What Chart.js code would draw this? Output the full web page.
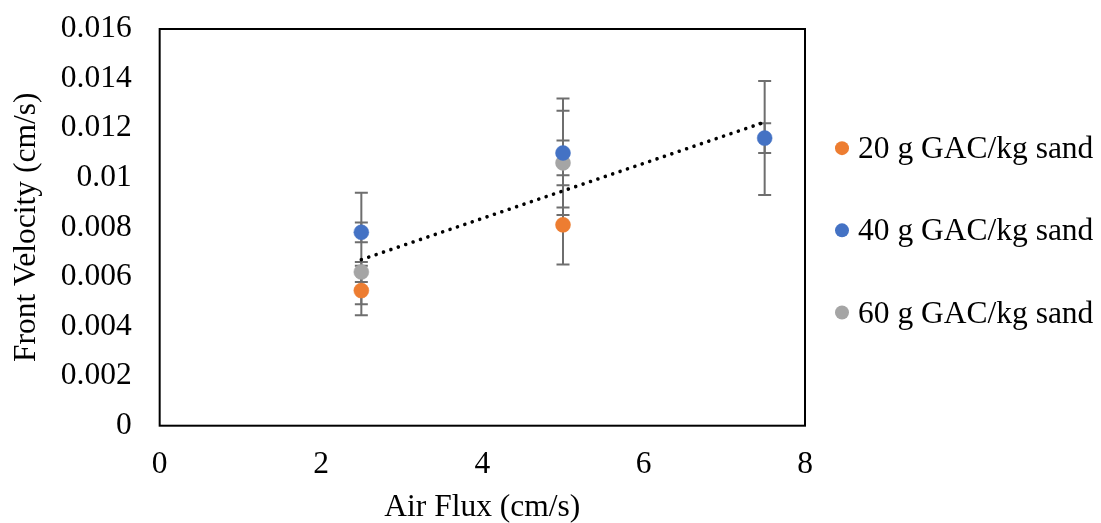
<!DOCTYPE html>
<html>
<head>
<meta charset="utf-8">
<title>Front Velocity vs Air Flux</title>
<script src="https://cdn.jsdelivr.net/npm/chart.js@4.4.1/dist/chart.umd.min.js"></script>
<style>
    html, body { margin: 0; padding: 0; background: #fff; }
    #wrap { width: 1101px; height: 523px; }
</style>
</head>
<body>
<div id="wrap"><canvas id="grafico"></canvas></div>
<script>
// air flux (cm/s) per series
var flux20 = [2.5, 5];
var flux40 = [2.5, 5, 7.5];
var flux60 = [2.5, 5];
// front velocity (cm/s)
var vel20 = [0.00545, 0.0081];
var vel40 = [0.0078, 0.0110, 0.0116];
var vel60 = [0.0062, 0.0106];
// error bars, +/- (cm/s)
var err20 = [0.001, 0.0016];
var err40 = [0.0004, 0.0022, 0.0023];
var err60 = [0.0004, 0.0021];
// second error bar on the 40 g series, [minus, plus]
var err40b = [[0.0029, 0.0016], [0.0009, 0.0005], [0.0006, 0.0006]];

var seriesNames = ['20 g GAC/kg sand', '40 g GAC/kg sand', '60 g GAC/kg sand'];
var seriesColors = ['#ED7D31', '#4472C4', '#A5A5A5'];
var xTicks = [0, 2, 4, 6, 8];
var yTicks = [0, 0.002, 0.004, 0.006, 0.008, 0.01, 0.012, 0.014, 0.016];

var FONT = "'Liberation Serif', 'Times New Roman', serif";
var FSIZE = 31.5;

function points(xs, ys){
    return xs.map(function(x, i){ return {x: x, y: ys[i]}; });
}

function symErr(errs){
    return errs.map(function(e){ return [[e, e]]; });
}

// least squares line through every measured point
function trend(){
    var xs = flux20.concat(flux40, flux60);
    var ys = vel20.concat(vel40, vel60);
    var n = xs.length, mx = 0, my = 0;
    for (var i = 0; i < n; i++){ mx += xs[i]; my += ys[i]; }
    mx /= n; my /= n;
    var sxy = 0, sxx = 0;
    for (i = 0; i < n; i++){
        sxy += (xs[i] - mx) * (ys[i] - my);
        sxx += (xs[i] - mx) * (xs[i] - mx);
    }
    var b = sxy / sxx, a = my - b * mx;
    var x0 = Math.min.apply(null, xs), x1 = Math.max.apply(null, xs);
    return [{x: x0, y: a + b * x0}, {x: x1, y: a + b * x1}];
}

var err40all = err40.map(function(e, i){ return [[e, e], err40b[i]]; });

var datasets = [
    {label: seriesNames[0], data: points(flux20, vel20), errs: symErr(err20)},
    {label: seriesNames[1], data: points(flux40, vel40), errs: err40all},
    {label: seriesNames[2], data: points(flux60, vel60), errs: symErr(err60)}
].map(function(ds, i){
    ds.backgroundColor = seriesColors[i];
    ds.borderColor = seriesColors[i];
    ds.pointRadius = 7.5;
    ds.pointHoverRadius = 7.5;
    ds.borderWidth = 0.5;
    ds.order = 2;
    return ds;
});

datasets.push({
    type: 'line',
    label: 'trend',
    data: trend(),
    borderColor: '#000',
    borderWidth: 3.6,
    borderDash: [0.01, 7.8],
    borderCapStyle: 'round',
    pointRadius: 0,
    fill: false,
    order: 1,
    isTrend: true
});

var errorBars = {
    id: 'errorBars',
    beforeDatasetsDraw: function(chart){
        var ctx = chart.ctx, xs = chart.scales.x, ys = chart.scales.y;
        ctx.save();
        ctx.strokeStyle = '#6E6E6E';
        ctx.lineWidth = 2;
        chart.data.datasets.forEach(function(ds){
            if (!ds.errs) return;
            ds.data.forEach(function(p, i){
                var px = xs.getPixelForValue(p.x);
                ds.errs[i].forEach(function(e){
                    var lo = ys.getPixelForValue(p.y - e[0]);
                    var hi = ys.getPixelForValue(p.y + e[1]);
                    ctx.beginPath();
                    ctx.moveTo(px, lo); ctx.lineTo(px, hi);
                    ctx.moveTo(px - 6.5, lo); ctx.lineTo(px + 6.5, lo);
                    ctx.moveTo(px - 6.5, hi); ctx.lineTo(px + 6.5, hi);
                    ctx.stroke();
                });
            });
        });
        ctx.restore();
    }
};

var plotFrame = {
    id: 'plotFrame',
    afterDraw: function(chart){
        var ctx = chart.ctx, a = chart.chartArea;
        ctx.save();
        ctx.strokeStyle = '#000';
        ctx.lineWidth = 2;
        ctx.strokeRect(a.left, a.top, a.right - a.left, a.bottom - a.top);

        // legend to the right of the plot
        var mid = (a.top + a.bottom) / 2 + 3;
        ctx.font = FSIZE + 'px ' + FONT;
        ctx.textAlign = 'left';
        ctx.textBaseline = 'alphabetic';
        chart.data.datasets.forEach(function(ds, i){
            if (ds.isTrend) return;
            var cy = mid + (i - 1) * 82.2;
            var cx = a.right + 37;
            ctx.fillStyle = ds.backgroundColor;
            ctx.beginPath();
            ctx.arc(cx, cy, 7, 0, Math.PI * 2);
            ctx.fill();
            ctx.fillStyle = '#000';
            ctx.fillText(ds.label, cx + 16, cy + 10);
        });
        ctx.restore();
    }
};

Chart.defaults.color = '#000';
Chart.defaults.font.family = FONT;

new Chart(document.getElementById('grafico'), {
    type: 'scatter',
    data: {datasets: datasets},
    plugins: [errorBars, plotFrame],
    options: {
        responsive: true,
        maintainAspectRatio: false,
        animation: false,
        layout: {padding: {left: 4, top: 29, right: 296, bottom: 0}},
        plugins: {
            legend: {display: false},
            tooltip: {enabled: false}
        },
        scales: {
            x: {
                type: 'linear',
                min: 0,
                max: 8,
                // tick marks hidden, tickLength only spaces the labels
                grid: {display: false, drawTicks: true, tickLength: 20},
                border: {display: false},
                afterBuildTicks: function(axis){
                    axis.ticks = xTicks.map(function(v){ return {value: v}; });
                },
                ticks: {
                    padding: 0,
                    font: {size: FSIZE},
                    callback: function(v){ return String(v); }
                },
                title: {
                    display: true,
                    text: 'Air Flux (cm/s)',
                    font: {size: FSIZE, lineHeight: 1},
                    padding: {top: 8, bottom: 0}
                }
            },
            y: {
                type: 'linear',
                min: 0,
                max: 0.016,
                grid: {display: false, drawTicks: true, tickLength: 28},
                border: {display: false},
                afterBuildTicks: function(axis){
                    axis.ticks = yTicks.map(function(v){ return {value: v}; });
                },
                ticks: {
                    padding: 0,
                    autoSkip: false,
                    font: {size: FSIZE},
                    callback: function(v){ return String(parseFloat(v.toFixed(3))); }
                },
                title: {
                    display: true,
                    text: 'Front Velocity (cm/s)',
                    font: {size: FSIZE},
                    padding: {top: 4, bottom: 15}
                }
            }
        }
    }
});
</script>
</body>
</html>
